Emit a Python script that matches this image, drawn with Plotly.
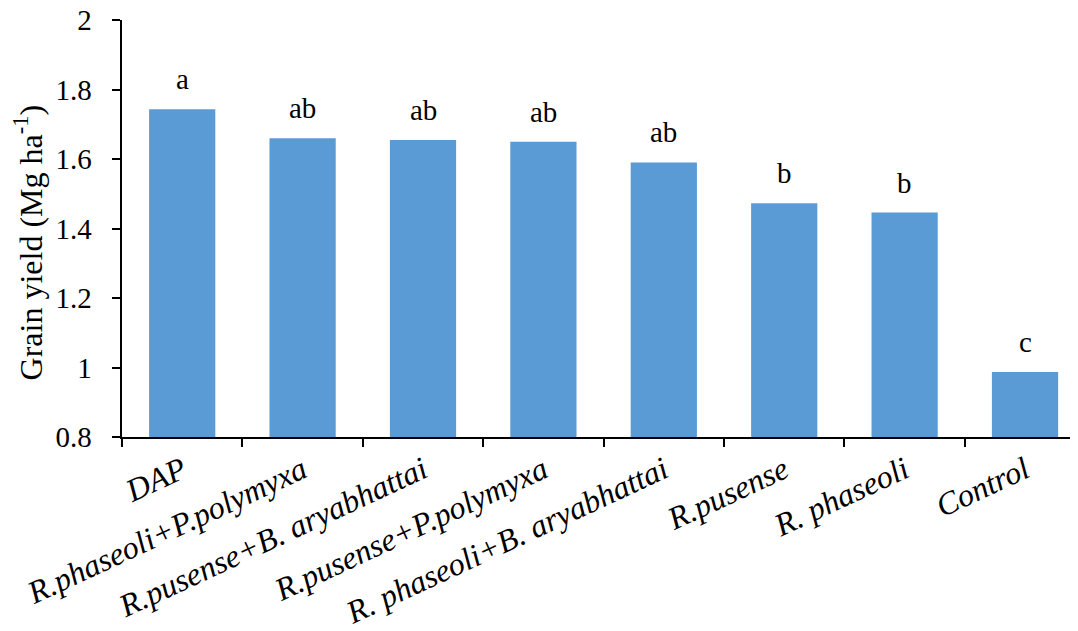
import plotly.graph_objects as go

categories = ["DAP", "R.phaseoli+P.polymyxa", "R.pusense+B. aryabhattai", "R.pusense+P.polymyxa",
              "R. phaseoli+B. aryabhattai", "R.pusense", "R. phaseoli", "Control"]
grain_yield = [1.743, 1.660, 1.655, 1.650, 1.590, 1.473, 1.446, 0.987]
letters = ["a", "ab", "ab", "ab", "ab", "b", "b", "c"]
y_ticks = [0.8, 1.0, 1.2, 1.4, 1.6, 1.8, 2.0]
y_tick_labels = ["0.8", "1", "1.2", "1.4", "1.6", "1.8", "2"]
y_title = "Grain yield (Mg ha<sup>-1</sup>)"

FONT = "Liberation Serif, Times New Roman, serif"
NBSP = "\u00a0"

fig = go.Figure()
fig.add_trace(go.Bar(x=categories, y=grain_yield, marker=dict(color="#5B9BD5", line=dict(width=0)),
                     width=0.55))

for c, v, t in zip(categories, grain_yield, letters):
    fig.add_annotation(x=c, y=v, text=t, showarrow=False, yanchor="bottom", yshift=12,
                       font=dict(family=FONT, size=29, color="black"))

# y-axis title placed as a rotated annotation
fig.add_annotation(x=-0.098, y=0.465, xref="paper", yref="paper", text=y_title, showarrow=False,
                   textangle=-90, xanchor="center", yanchor="middle",
                   font=dict(family=FONT, size=32, color="black"))

fig.update_layout(
    width=1070, height=623,
    margin=dict(l=114, r=0, t=12, b=194),
    plot_bgcolor="white", paper_bgcolor="white",
    showlegend=False,
    font=dict(family=FONT, color="black"),
)
fig.update_xaxes(
    type="category", range=[-0.5, 7.44], automargin=False,
    showline=True, linecolor="black", linewidth=2,
    ticks="outside", tickson="boundaries", ticklen=8, tickcolor="black", tickwidth=2,
    tickangle=-25, tickfont=dict(family=FONT, size=32, style="italic", color="black"),
    showgrid=False, ticklabeloverflow="allow",
)
fig.update_yaxes(
    range=[0.8, 2.0], tickvals=y_ticks, ticktext=[s + NBSP * 2 for s in y_tick_labels],
    automargin=False,
    showline=True, linecolor="black", linewidth=2,
    ticks="outside", ticklen=8, tickcolor="black", tickwidth=2,
    tickfont=dict(family=FONT, size=29, color="black"),
    showgrid=False, zeroline=False, ticklabeloverflow="allow",
)

fig.write_html("out.html")
